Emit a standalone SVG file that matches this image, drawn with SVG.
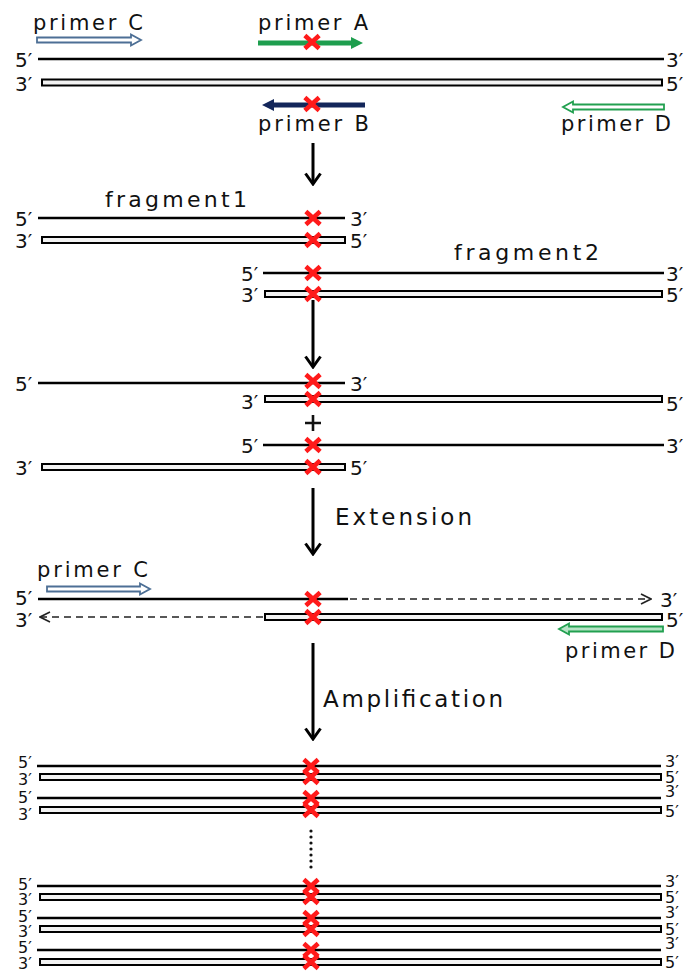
<svg xmlns="http://www.w3.org/2000/svg" xmlns:xlink="http://www.w3.org/1999/xlink" width="696" height="978" viewBox="0 0 696 978">
<style>
  text { font-family: "DejaVu Sans", "Liberation Sans", Arial, sans-serif; fill: #111; }
  .lbl { font-size: 20px; }
  .lbs { font-size: 16px; }
  .pl { font-size: 21px; }
  .fr { font-size: 22px; }
  .big { font-size: 23px; }
  .ss { stroke: #000; stroke-width: 2.6; fill: none; }
  .ds { stroke: #000; stroke-width: 2; fill: #f2f2f2; }
  .dash { stroke: #222; stroke-width: 1.6; stroke-dasharray: 7 5; fill: none; }
  .down { stroke: #000; stroke-width: 3; fill: none; }
</style>
<defs>
  <g id="rx">
    <path d="M-5.5,-5 L5.5,5 M5.5,-5 L-5.5,5" stroke="#ff1a1a" stroke-width="4.5" stroke-linecap="square" fill="none"/>
  </g>
  <marker id="dn" viewBox="0 0 14 18" refX="12" refY="9" markerWidth="14" markerHeight="18" markerUnits="userSpaceOnUse" orient="auto">
    <path d="M1.5,1.5 L12,9 L1.5,16.5" stroke="#000" stroke-width="3" fill="none" stroke-linejoin="miter"/>
  </marker>
  <marker id="op" viewBox="0 0 12 12" refX="11" refY="6" markerWidth="12" markerHeight="12" markerUnits="userSpaceOnUse" orient="auto">
    <path d="M1,1 L11,6 L1,11" stroke="#222" stroke-width="1.6" fill="none"/>
  </marker>
</defs>

<!-- Section 1: template with primers -->
<g id="template">
  <text class="lbl" x="15" y="67">5′</text>
  <line class="ss" x1="38" y1="59" x2="664" y2="59"/>
  <text class="lbl" x="666" y="67">3′</text>
  <text class="lbl" x="15" y="91">3′</text>
  <rect class="ds" x="42" y="79.5" width="620" height="6"/>
  <text class="lbl" x="666" y="91">5′</text>
</g>
<g id="primerC">
  <text class="pl" x="33" y="30" textLength="110" lengthAdjust="spacing">primer C</text>
  <polygon points="37,37.5 131,37.5 131,34.5 141,40 131,45.5 131,42.5 37,42.5" fill="#fff" stroke="#4d6f95" stroke-width="1.8"/>
</g>
<g id="primerA">
  <text class="pl" x="258" y="30" textLength="110" lengthAdjust="spacing">primer A</text>
  <line x1="258" y1="43" x2="353" y2="43" stroke="#1e9e4e" stroke-width="5"/>
  <polygon points="351,37 363,43 351,49" fill="#1e9e4e"/>
  <use xlink:href="#rx" x="312" y="42"/>
</g>
<g id="primerB">
  <line x1="365" y1="105" x2="272" y2="105" stroke="#13265a" stroke-width="5"/>
  <polygon points="274,99 262,105 274,111" fill="#13265a"/>
  <use xlink:href="#rx" x="312" y="104"/>
  <text class="pl" x="258" y="131" textLength="111" lengthAdjust="spacing">primer B</text>
</g>
<g id="primerD">
  <polygon points="664,104.5 573,104.5 573,101.5 563,107 573,112.5 573,109.5 664,109.5" fill="#fff" stroke="#22a050" stroke-width="1.8"/>
  <text class="pl" x="561" y="131" textLength="110" lengthAdjust="spacing">primer D</text>
</g>

<!-- Section 2: fragments -->
<g id="fragment1">
  <text class="fr" x="105" y="207" textLength="142" lengthAdjust="spacing">fragment1</text>
  <text class="lbl" x="15" y="226">5′</text>
  <line class="ss" x1="38" y1="218" x2="345" y2="218"/>
  <text class="lbl" x="350" y="226">3′</text>
  <text class="lbl" x="15" y="248">3′</text>
  <rect class="ds" x="42" y="237" width="303" height="6"/>
  <text class="lbl" x="350" y="248">5′</text>
  <use xlink:href="#rx" x="313" y="218"/>
  <use xlink:href="#rx" x="313" y="240"/>
</g>
<g id="fragment2">
  <text class="fr" x="454" y="260" textLength="145" lengthAdjust="spacing">fragment2</text>
  <text class="lbl" x="241" y="281">5′</text>
  <line class="ss" x1="263" y1="273" x2="664" y2="273"/>
  <text class="lbl" x="666" y="281">3′</text>
  <text class="lbl" x="241" y="302">3′</text>
  <rect class="ds" x="265" y="291" width="397" height="6"/>
  <text class="lbl" x="666" y="302">5′</text>
  <use xlink:href="#rx" x="313" y="273"/>
  <use xlink:href="#rx" x="313" y="294"/>
</g>

<!-- Section 3: annealing -->
<g id="hybrid1">
  <text class="lbl" x="15" y="391">5′</text>
  <line class="ss" x1="38" y1="383" x2="345" y2="383"/>
  <text class="lbl" x="350" y="391">3′</text>
  <text class="lbl" x="241" y="409">3′</text>
  <rect class="ds" x="265" y="396" width="397" height="6"/>
  <text class="lbl" x="666" y="411">5′</text>
  <use xlink:href="#rx" x="313" y="381"/>
  <use xlink:href="#rx" x="313" y="399"/>
</g>
<g id="plus">
  <path d="M313,415 V431 M305,423 H321" stroke="#111" stroke-width="2.6" fill="none"/>
</g>
<g id="hybrid2">
  <text class="lbl" x="241" y="453">5′</text>
  <line class="ss" x1="263" y1="445" x2="664" y2="445"/>
  <text class="lbl" x="666" y="453">3′</text>
  <text class="lbl" x="15" y="475">3′</text>
  <rect class="ds" x="42" y="464" width="303" height="6"/>
  <text class="lbl" x="350" y="475">5′</text>
  <use xlink:href="#rx" x="313" y="445"/>
  <use xlink:href="#rx" x="313" y="467"/>
</g>

<!-- Section 4: extension -->
<g id="extension">
  <text class="pl" x="37" y="577" textLength="111" lengthAdjust="spacing">primer C</text>
  <polygon points="47,586.5 140,586.5 140,583.5 150,589 140,594.5 140,591.5 47,591.5" fill="#fff" stroke="#4d6f95" stroke-width="1.8"/>
  <text class="lbl" x="15" y="605">5′</text>
  <line class="ss" x1="38" y1="599" x2="348" y2="599"/>
  <line class="dash" x1="350" y1="599" x2="651" y2="599" marker-end="url(#op)"/>
  <text class="lbl" x="660" y="607">3′</text>
  <text class="lbl" x="15" y="627">3′</text>
  <line class="dash" x1="263" y1="617" x2="40" y2="617" marker-end="url(#op)"/>
  <rect class="ds" x="265" y="614" width="397" height="6"/>
  <text class="lbl" x="666" y="627">5′</text>
  <use xlink:href="#rx" x="313" y="599"/>
  <use xlink:href="#rx" x="313" y="617"/>
  <polygon points="663,626.5 569,626.5 569,623.5 559,629 569,634.5 569,631.5 663,631.5" fill="#b5e3c5" stroke="#22a050" stroke-width="1.8"/>
  <text class="pl" x="565" y="658" textLength="110" lengthAdjust="spacing">primer D</text>
</g>

<!-- Section 5: amplification products -->
<g id="products">
  <text class="lbs" x="18" y="768">5′</text>
  <line class="ss" x1="37" y1="766" x2="661" y2="766"/>
  <text class="lbs" x="665" y="767">3′</text>
  <text class="lbs" x="18" y="785">3′</text>
  <rect class="ds" x="40" y="774" width="621" height="6"/>
  <text class="lbs" x="665" y="783">5′</text>
  <text class="lbs" x="18" y="803">5′</text>
  <line class="ss" x1="37" y1="798" x2="661" y2="798"/>
  <text class="lbs" x="665" y="797">3′</text>
  <text class="lbs" x="18" y="820">3′</text>
  <rect class="ds" x="40" y="807" width="621" height="6"/>
  <text class="lbs" x="665" y="817">5′</text>
  <use xlink:href="#rx" x="311" y="766"/>
  <use xlink:href="#rx" x="311" y="777"/>
  <use xlink:href="#rx" x="311" y="798"/>
  <use xlink:href="#rx" x="311" y="810"/>

  <g fill="#111">
    <circle cx="311" cy="831" r="1.6"/><circle cx="311" cy="837" r="1.6"/><circle cx="311" cy="843" r="1.6"/>
    <circle cx="311" cy="849" r="1.6"/><circle cx="311" cy="855" r="1.6"/><circle cx="311" cy="861" r="1.6"/>
    <circle cx="311" cy="867" r="1.6"/>
  </g>

  <text class="lbs" x="18" y="890">5′</text>
  <line class="ss" x1="37" y1="886" x2="661" y2="886"/>
  <text class="lbs" x="665" y="887">3′</text>
  <text class="lbs" x="18" y="905">3′</text>
  <rect class="ds" x="40" y="894" width="621" height="6"/>
  <text class="lbs" x="665" y="903">5′</text>
  <text class="lbs" x="18" y="922">5′</text>
  <line class="ss" x1="37" y1="918" x2="661" y2="918"/>
  <text class="lbs" x="665" y="918">3′</text>
  <text class="lbs" x="18" y="937">3′</text>
  <rect class="ds" x="40" y="926" width="621" height="6"/>
  <text class="lbs" x="665" y="935">5′</text>
  <text class="lbs" x="18" y="953">5′</text>
  <line class="ss" x1="37" y1="950" x2="661" y2="950"/>
  <text class="lbs" x="665" y="949">3′</text>
  <text class="lbs" x="18" y="969">3′</text>
  <rect class="ds" x="40" y="959" width="621" height="6"/>
  <text class="lbs" x="665" y="968">5′</text>
  <use xlink:href="#rx" x="311" y="886"/>
  <use xlink:href="#rx" x="311" y="897"/>
  <use xlink:href="#rx" x="311" y="918"/>
  <use xlink:href="#rx" x="311" y="929"/>
  <use xlink:href="#rx" x="311" y="950"/>
  <use xlink:href="#rx" x="311" y="962"/>
</g>

<!-- Connectors -->
<g id="connectors">
  <line class="down" x1="313" y1="143" x2="313" y2="184" marker-end="url(#dn)"/>
  <line class="down" x1="313" y1="300" x2="313" y2="367" marker-end="url(#dn)"/>
  <line class="down" x1="313" y1="488" x2="313" y2="554" marker-end="url(#dn)"/>
  <text class="big" x="335" y="525" textLength="137" lengthAdjust="spacing">Extension</text>
  <line class="down" x1="313" y1="643" x2="313" y2="739" marker-end="url(#dn)"/>
  <text class="big" x="323" y="707" textLength="180" lengthAdjust="spacing">Amplification</text>
</g>
</svg>
